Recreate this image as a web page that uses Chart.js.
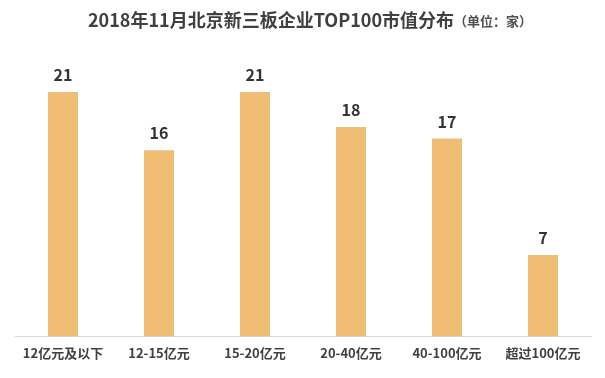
<!DOCTYPE html>
<html lang="zh-CN">
<head>
  <meta charset="UTF-8">
  <title>2018年11月北京新三板企业TOP100市值分布</title>
  <script src="https://cdn.jsdelivr.net/npm/chart.js@4.4.0"></script>
  <style>
    html, body { margin: 0; padding: 0; background: #fff; }
    #wrap { width: 605px; height: 378px; }
  </style>
</head>
<body>
  <div id="wrap"><canvas id="myChart"></canvas></div>
  <script>
    // データ
    const categories = ['12亿元及以下', '12-15亿元', '15-20亿元', '20-40亿元', '40-100亿元', '超过100亿元'];
    const counts = [21, 16, 21, 18, 17, 7];
    const titleText = '2018年11月北京新三板企业TOP100市值分布';
    const unitText = '（单位：家）';

    const FONT = '"Noto Sans CJK SC", "Noto Sans", sans-serif';

    // タイトル描画
    const titlePlugin = {
      id: 'titleDraw',
      afterDraw(chart) {
        const c = chart.ctx;
        c.save();
        c.textBaseline = 'middle';
        c.fillStyle = '#404040';
        c.font = 'bold 18px ' + FONT;
        const w1 = c.measureText(titleText).width;
        c.font = 'bold 13px ' + FONT;
        const w2 = c.measureText(unitText).width;
        let x = 310 - (w1 + w2) / 2;
        c.textAlign = 'left';
        c.font = 'bold 18px ' + FONT;
        c.fillText(titleText, x, 20);
        c.font = 'bold 13px ' + FONT;
        c.fillStyle = '#505050';
        c.fillText(unitText, x + w1, 21);
        c.restore();
      }
    };

    // 数値ラベル
    const valueLabels = {
      id: 'valueLabels',
      afterDatasetsDraw(chart) {
        const c = chart.ctx;
        const meta = chart.getDatasetMeta(0);
        c.save();
        c.font = 'bold 16px ' + FONT;
        c.fillStyle = '#333333';
        c.textAlign = 'center';
        c.textBaseline = 'middle';
        meta.data.forEach((bar, i) => {
          c.fillText(String(counts[i]), bar.x, bar.y - 17);
        });
        c.restore();
      }
    };

    new Chart(document.getElementById('myChart'), {
      type: 'bar',
      data: {
        labels: categories,
        datasets: [{
          data: counts,
          backgroundColor: '#F0BD74',
          categoryPercentage: 1.0,
          barPercentage: 0.3125
        }]
      },
      options: {
        responsive: true,
        maintainAspectRatio: false,
        animation: false,
        layout: { padding: { top: 92, left: 15, right: 14, bottom: 8 } },
        plugins: {
          legend: { display: false },
          title: { display: false },
          tooltip: { enabled: false }
        },
        scales: {
          x: {
            grid: { display: false, drawTicks: false },
            border: { display: true, color: '#d9d9d9', width: 1 },
            ticks: {
              color: '#404040',
              font: { family: FONT, size: 13, weight: 'bold' },
              padding: 9,
              maxRotation: 0,
              autoSkip: false
            }
          },
          y: {
            display: false,
            min: 0,
            max: 21
          }
        }
      },
      plugins: [titlePlugin, valueLabels]
    });
  </script>
</body>
</html>
